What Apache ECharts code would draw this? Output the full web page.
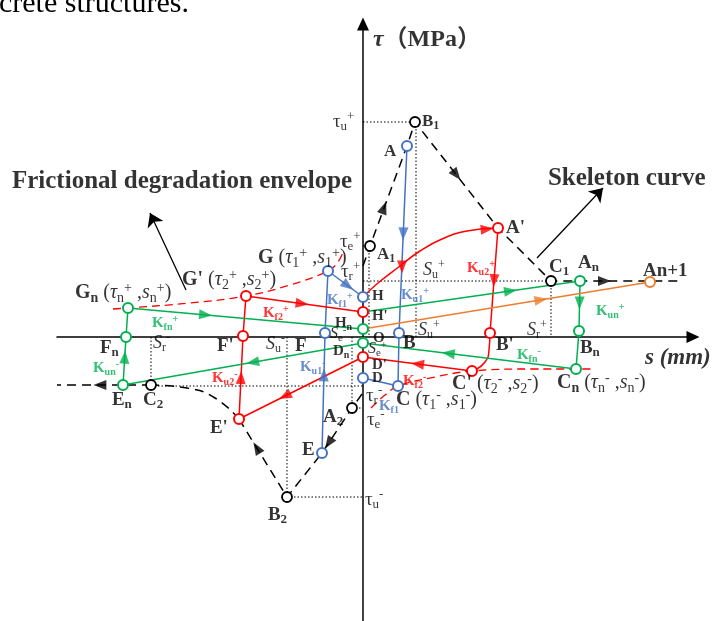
<!DOCTYPE html>
<html><head><meta charset="utf-8">
<script src="https://cdn.jsdelivr.net/npm/echarts@6/dist/echarts.min.js"></script>
<style>html,body{margin:0;padding:0;background:#fff}#c{width:713px;height:621px}</style>
</head><body><div id="c"></div>
<script>
const SERIF = '"Liberation Serif","Times New Roman","Noto Sans CJK SC",serif';
const BK = '#000000', BL = '#4472C4', RD = '#FF0000', GR = '#00B050', OR = '#ED7D31';

// Named points (s, tau) in schematic units
const P = {
  A1:[0.7,9.1], A:[4.4,19.1], B1:[5.2,21.5], Ap:[13.5,10.9], C1:[18.8,5.6], An:[21.7,5.6], An1:[28.7,5.5],
  A2:[-1.1,-7.1], E:[-4.1,-11.6], B2:[-7.6,-16.0], Ep:[-12.4,-8.2], C2:[-21.2,-4.8], En:[-24.0,-4.8],
  B:[3.6,0.4], C:[3.5,-4.9], D:[0.0,-4.1], F:[-3.8,0.4], G:[-3.5,6.6], H:[0.0,4.0],
  Hp:[0.0,2.5], Dp:[0.0,-2.0], Bp:[12.7,0.4], Cp:[10.9,-3.4], Fp:[-12.0,0.1], Gp:[-11.7,4.1],
  Bn:[21.6,0.6], Cn:[21.3,-3.2], Dn:[0.0,-0.6], Hn:[0.0,0.8], Fn:[-23.7,0.0], Gn:[-23.5,2.9],
  posStart:[0.0,7.1], posEnd:[31.9,5.6], negStart:[-0.1,-5.7], negEnd:[-30.6,-4.8]
};

// Skeleton curve (dashed black)
const skeletonPos = ['posStart','A1','A','B1','Ap','C1','An','posEnd'];
const skeletonNegA = ['negStart','A2','E','B2','Ep'];
const skeletonNegCurve = [[-12.4,-8.2],[-14.8,-6.1],[-17.6,-5.1],[-21.2,-4.8]];
const skeletonNegB = ['C2','En','negEnd'];

// Loading cycles
const blueUnload = ['A','B','C','D'];
const blueReload = ['E','F','G','H'];
const redCurveHA = [[0.0,4.0],[1.5,5.4],[3.7,7.1],[5.7,8.6],[7.9,9.8],[10.4,10.6],[13.5,10.9]];
const redUnload = ['Ap','Bp'];
const redCurveBC = [[12.7,0.4],[12.6,-1.3],[12.2,-2.5],[10.9,-3.4]];
const redPath = ['Cp','Dp','Ep','Fp','Gp','Hp'];
const greenPath = ['Hp','An','Bn','Cn','Dn','En','Fn','Gn','Hn'];
const orangePath = ['Hn','An1'];

// Frictional degradation envelopes (red dashed)
const envPos = [[-25.0,2.8],[-23.5,2.9],[-17.3,3.4],[-11.7,4.1],[-7.3,5.2],[-3.5,6.6],[-2.5,7.5],[-1.9,8.7]];
const envNeg = [[0.8,-7.1],[2.2,-5.8],[3.5,-4.9],[7.2,-4.0],[10.9,-3.4],[16.7,-3.2],[21.3,-3.2],[23.0,-3.2]];

// Dotted guide lines
const dotted = [
  [[0,21.5],[5.2,21.5]], [[5.3,21.5],[5.3,0]], [[0,5.6],[18.8,5.6]], [[18.8,5.6],[18.8,0]],
  [[0.6,9.1],[0.6,0]], [[0,9.1],[0.7,9.1]],
  [[-1.1,0],[-1.1,-7.1]], [[-1.1,-7.1],[0,-7.1]],
  [[-7.6,0],[-7.6,-16.0]], [[-7.6,-16.0],[0,-16.0]],
  [[-21.2,-4.9],[0,-4.9]], [[-21.2,0],[-21.2,-4.8]]
];

// Point markers
const circBlack = ['A1','B1','C1','A2','B2','C2'];
const circBlue = ['A','B','C','D','E','F','G','H'];
const circRed = ['Ap','Bp','Cp','Dp','Ep','Fp','Gp','Hp'];
const circGreen = ['An','Bn','Cn','Dn','En','Fn','Gn','Hn'];
const circOrange = ['An1'];

// Direction arrows: [from, to, fraction, colour]
const arrows = [
  ['A1','B1',0.31,BK], ['B1','Ap',0.5,BK], ['An','posEnd',0.24,BK],
  ['A2','E',0.78,BK], ['B2','Ep',0.63,BK], ['En','negEnd',0.35,BK],
  ['A','B',0.47,BL], ['E','F',0.65,BL], ['G','H',0.57,BL],
  [[10.4,10.6],[13.5,10.9],0.65,RD], [[3.9,7.3],[3.9,6.7],0.5,RD],
  ['Ap','Bp',0.5,RD], ['Cp','Dp',0.5,RD], ['Dp','Ep',0.63,RD], ['Ep','Fp',0.5,RD], ['Gp','Hp',0.48,RD],
  ['Hp','An',0.68,GR], ['An','Bn',0.44,GR], ['Cn','Dn',0.6,GR], ['Dn','En',0.46,GR], ['En','Fn',0.58,GR], ['Gn','Hn',0.33,GR],
  ['Hn','An1',0.62,OR]
];

// Pointer arrows for annotations
const pointers = [ [[-17.7,4.7],[-21.3,12.4]], [[17.4,7.9],[24.0,14.9]] ];

// Text labels: [markup, s, tau, size, colour, weight]   (* italic, # bold toggle, _{} sub, ^{} sup)
const labels = [
  ['*τ*（MPa）',1.0,29.7,24,BK,'bold'],
  ['τ_{u}^{+}',-3.0,21.5,19,BK,'normal'],
  ['B_{1}',5.9,21.5,17,BK,'bold'],
  ['A',2.1,18.5,17,BK,'bold'],
  ['Frictional degradation envelope',-35.1,15.5,25,BK,'bold'],
  ['Skeleton curve',18.5,15.8,25,BK,'bold'],
  ['τ_{e}^{+}',-2.3,9.5,19,BK,'normal'],
  ['τ_{r}^{+}',-2.2,6.5,19,BK,'normal'],
  ['A_{1}',1.4,8.2,17,BK,'bold'],
  ['#G# (*τ*_{1}^{+} ,*s*_{1}^{+})',-10.5,7.9,20,BK,'normal'],
  ["#G'# (*τ*_{2}^{+} ,*s*_{2}^{+})",-18.1,5.7,20,BK,'normal'],
  ['#G_{n}# (*τ*_{n}^{+} ,*s*_{n}^{+})',-28.8,4.4,20,BK,'normal'],
  ['K_{f2}^{+}',-10.0,2.4,15,RD,'bold'],
  ['K_{fn}^{+}',-21.1,1.4,15,GR,'bold'],
  ['K_{f1}^{+}',-3.6,3.7,15,BL,'bold'],
  ['H',0.9,4.1,15,BK,'bold'],
  ["H'",0.9,2.1,15,BK,'bold'],
  ['H_{n}',-2.8,1.4,15,BK,'bold'],
  ['O',1.0,-0.1,15,BK,'bold'],
  ['*S*_{e}^{+}',0.5,-1.2,16,BK,'normal'],
  ['D_{n}',-3.0,-1.4,15,BK,'bold'],
  ["D'",0.9,-2.8,15,BK,'bold'],
  ['D',0.9,-4.1,15,BK,'bold'],
  ['τ_{r}^{-}',0.3,-5.9,19,BK,'normal'],
  ['τ_{e}^{-}',0.4,-8.3,19,BK,'normal'],
  ['*S*_{e}^{-}',-3.3,0.3,16,BK,'normal'],
  ['F',-6.8,-0.9,19,BK,'bold'],
  ['*S*_{u}^{-}',-9.7,-0.7,18,BK,'normal'],
  ["F'",-14.6,-0.9,19,BK,'bold'],
  ['*S*_{r}^{-}',-21.0,-0.6,18,BK,'normal'],
  ['F_{n}',-26.3,-1.1,19,BK,'bold'],
  ['K_{un}^{-}',-27.0,-3.1,15,GR,'bold'],
  ['K_{u2}^{-}',-15.1,-4.1,15,RD,'bold'],
  ['K_{u1}^{-}',-6.3,-3.0,15,BL,'bold'],
  ['E_{n}',-25.1,-6.3,19,BK,'bold'],
  ['C_{2}',-22.0,-6.3,19,BK,'bold'],
  ["E'",-15.3,-9.1,19,BK,'bold'],
  ['A_{2}',-4.0,-8.0,19,BK,'bold'],
  ['E',-6.1,-11.3,19,BK,'bold'],
  ['B_{2}',-9.5,-17.8,19,BK,'bold'],
  ['τ_{u}^{-}',0.2,-16.3,19,BK,'normal'],
  ['B',4.0,-0.6,19,BK,'bold'],
  ['*S*_{u}^{+}',5.5,0.7,18,BK,'normal'],
  ['*S*_{u}^{+}',6.0,6.7,18,BK,'normal'],
  ["B'",13.3,-0.8,19,BK,'bold'],
  ['*S*_{r}^{+}',16.4,0.7,18,BK,'normal'],
  ['B_{n}',21.7,-1.1,19,BK,'bold'],
  ['*s (mm)*',28.2,-2.1,23,BK,'bold'],
  ['K_{fn}^{-}',15.4,-1.8,15,GR,'bold'],
  ['K_{f2}^{-}',4.0,-4.4,15,RD,'bold'],
  ["#C'# (*τ*_{2}^{-} ,*s*_{2}^{-})",8.9,-4.7,20,BK,'normal'],
  ['#C_{n}# (*τ*_{n}^{-} ,*s*_{n}^{-})',19.4,-4.6,20,BK,'normal'],
  ['#C# (*τ*_{1}^{-} ,*s*_{1}^{-})',3.3,-6.3,20,BK,'normal'],
  ['K_{f1}',1.6,-6.9,15,BL,'bold'],
  ['K_{u1}^{+}',3.8,4.2,15,BL,'bold'],
  ['K_{u2}^{+}',10.4,6.9,15,RD,'bold'],
  ['K_{un}^{+}',23.3,2.6,15,GR,'bold'],
  ['C_{1}',18.6,7.0,19,BK,'bold'],
  ['A_{n}',21.5,7.4,19,BK,'bold'],
  ['An+1',28.0,6.6,19,BK,'bold'],
  ["A'",14.3,10.9,19,BK,'bold']
];

function pt(n){ return typeof n === 'string' ? P[n] : n; }
function path(names){ return names.map(pt); }

function mk(src, size, color, weight){
  const toks = []; let bold = weight === 'bold', ital = false, buf = '', i = 0;
  const push = (t, kind) => { if (t) toks.push({t, kind, b: bold, it: ital}); };
  while (i < src.length) {
    const ch = src[i];
    if (ch === '*') { push(buf,'n'); buf=''; ital = !ital; i++; }
    else if (ch === '#') { push(buf,'n'); buf=''; bold = !bold; i++; }
    else if ((ch === '_' || ch === '^') && src[i+1] === '{') {
      push(buf,'n'); buf=''; const j = src.indexOf('}', i);
      push(src.slice(i+2, j), ch === '_' ? 'sub' : 'sup'); i = j + 1;
    } else { buf += ch; i++; }
  }
  push(buf,'n');
  const rich = {}; let fmt = '';
  toks.forEach((tk, k) => {
    const small = tk.kind !== 'n';
    const fs = small ? Math.round(size * 0.68) : size;
    rich['s'+k] = {
      fontSize: fs, fontFamily: SERIF, color: color,
      fontWeight: tk.b ? 'bold' : 'normal', fontStyle: tk.it ? 'italic' : 'normal',
      lineHeight: small ? fs : Math.round(size * 1.2),
      verticalAlign: tk.kind === 'sub' ? 'bottom' : (tk.kind === 'sup' ? 'top' : 'middle')
    };
    fmt += '{s' + k + '|' + tk.t + '}';
  });
  return {formatter: fmt, rich: rich};
}

const series = [];
function lineS(data, color, width, type, smooth){
  series.push({type:'line', data: data, showSymbol:false, symbol:'none', smooth: smooth||false, z:2,
    lineStyle:{color: color, width: width, type: type || 'solid'}, silent:true, animation:false, clip:false});
}
dotted.forEach(d => lineS(d, BK, 1, [1.5,2]));
lineS(path(skeletonPos), BK, 1.5, [9,6]);
lineS(path(skeletonNegA), BK, 1.5, [9,6]);
lineS(skeletonNegCurve, BK, 1.5, [9,6], 0.5);
lineS(path(skeletonNegB), BK, 1.5, [9,6]);
lineS(envPos, RD, 1.3, [8,5], 0.4);
lineS(envNeg, RD, 1.3, [8,5], 0.4);
lineS(path(blueUnload), BL, 1.5);
lineS(path(blueReload), BL, 1.5);
lineS(redCurveHA, RD, 1.5, 'solid', 0.5);
lineS(path(redUnload), RD, 1.5);
lineS(redCurveBC, RD, 1.5, 'solid', 0.6);
lineS(path(redPath), RD, 1.5);
lineS(path(greenPath), GR, 1.5);
lineS(path(orangePath), OR, 1.5);

series.push({type:'lines', coordinateSystem:'cartesian2d', z:3, silent:true, animation:false,
  symbol:['none','arrow'], symbolSize:13,
  lineStyle:{color:BK, width:1.3, opacity:1},
  data: pointers.map(p => ({coords: p}))});

function circles(names, color, bw){
  series.push({type:'scatter', data: names.map(pt), symbol:'circle', symbolSize:10, z:5, silent:true, animation:false, clip:false,
    itemStyle:{color:'#ffffff', borderColor: color, borderWidth: bw, opacity:1}});
}
circles(circBlack, BK, 1.8);
circles(circBlue, BL, 2);
circles(circRed, RD, 2);
circles(circGreen, GR, 2);
circles(circOrange, OR, 2);

series.push({type:'scatter', symbol:'triangle', symbolSize:[10,13], z:6, silent:true, animation:false, clip:false,
  data: arrows.map(a => {
    const p = pt(a[0]), q = pt(a[1]), t = a[2];
    const x = p[0] + (q[0]-p[0])*t, y = p[1] + (q[1]-p[1])*t;
    const ang = Math.atan2(q[1]-p[1], q[0]-p[0]) * 180 / Math.PI;
    return {value:[x,y], symbolRotate: ang - 90, itemStyle:{color: a[3]}};
  })});

series.push({type:'scatter', symbolSize:0.1, z:10, silent:true, animation:false, clip:false,
  itemStyle:{color:'rgba(0,0,0,0)'},
  data: labels.map(l => {
    const m = mk(l[0], l[3], l[4], l[5]);
    return {value:[l[1], l[2]], label:{show:true, position:[0,0], align:'left', verticalAlign:'middle',
      formatter: m.formatter, rich: m.rich}};
  })});

const chart = echarts.init(document.getElementById('c'), null, {renderer:'canvas'});
chart.setOption({
  animation:false,
  backgroundColor:'#ffffff',
  grid:{left:57, right:20, top:24, bottom:0, containLabel:false},
  xAxis:{type:'value', min:-30.6, max:33.0, splitLine:{show:false}, axisTick:{show:false}, axisLabel:{show:false},
    axisLine:{show:true, onZero:true, symbol:['none','triangle'], symbolSize:[12,13], lineStyle:{color:BK, width:1.5}}},
  yAxis:{type:'value', min:-28.4, max:31.3, splitLine:{show:false}, axisTick:{show:false}, axisLabel:{show:false},
    axisLine:{show:true, onZero:true, symbol:['none','triangle'], symbolSize:[12,13], lineStyle:{color:BK, width:1.5}}},
  graphic:[{type:'text', x:-1, y:4, silent:true,
    style:{text:'crete structures.', font:'30px "Liberation Serif", serif', fill:'#000', verticalAlign:'middle'}}],
  series: series
});
</script></body></html>
